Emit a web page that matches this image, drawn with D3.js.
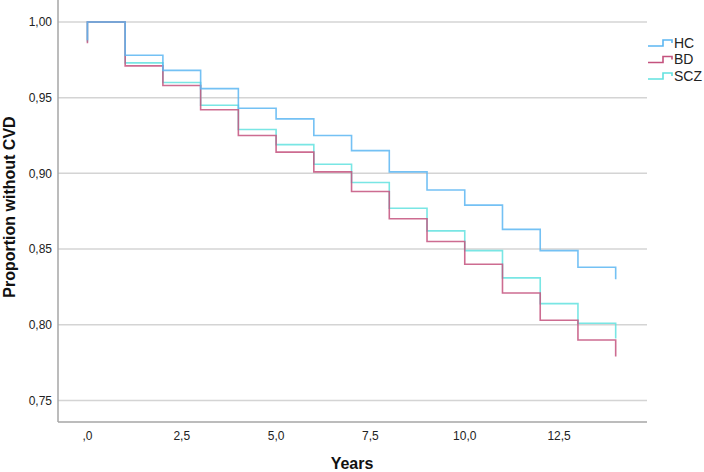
<!DOCTYPE html>
<html>
<head>
<meta charset="utf-8">
<script src="https://cdn.jsdelivr.net/npm/d3@7"></script>
<style>
  body { margin: 0; background: #fff; }
  text { font-family: "Liberation Sans", Arial, sans-serif; }
</style>
</head>
<body>
<div id="chart"></div>
<script>
const years = [0, 0, 1, 2, 3, 4, 5, 6, 7, 8, 9, 10, 11, 12, 13, 14];
const hcValues  = [0.988, 1.000, 0.978, 0.968, 0.956, 0.943, 0.936, 0.925, 0.915, 0.901, 0.889, 0.879, 0.863, 0.849, 0.838, 0.830];
const bdValues  = [0.986, 1.000, 0.971, 0.958, 0.942, 0.925, 0.914, 0.901, 0.888, 0.870, 0.855, 0.840, 0.821, 0.803, 0.790, 0.779];
const sczValues = [0.987, 1.000, 0.973, 0.960, 0.945, 0.929, 0.919, 0.906, 0.894, 0.877, 0.862, 0.849, 0.831, 0.814, 0.801, 0.791];
const groups = ["HC", "BD", "SCZ"];
const colors = ["#5cb6f2", "#c4527e", "#62e2df"];
const xTicks = [0, 2.5, 5, 7.5, 10, 12.5];
const xTickLabels = [",0", "2,5", "5,0", "7,5", "10,0", "12,5"];
const yTicks = [0.75, 0.80, 0.85, 0.90, 0.95, 1.00];
const yTickLabels = ["0,75", "0,80", "0,85", "0,90", "0,95", "1,00"];

const W = 704, H = 472;
const MARGIN = { left: 58, top: 0, right: 57, bottom: 50 };
const width = W - MARGIN.left - MARGIN.right;
const height = H - MARGIN.top - MARGIN.bottom;

const svg = d3.select("#chart").append("svg")
    .attr("width", W)
    .attr("height", H);

const g = svg.append("g")
    .attr("transform", `translate(${MARGIN.left}, ${MARGIN.top})`);

const x = d3.scaleLinear().domain([-0.78, 14.83]).range([0, width]);
const y = d3.scaleLinear().domain([0.7358, 1.0145]).range([height, 0]);

// gridlines
g.selectAll("line.grid")
    .data(yTicks)
    .join("line")
    .attr("class", "grid")
    .attr("x1", 0)
    .attr("x2", width)
    .attr("y1", d => y(d))
    .attr("y2", d => y(d))
    .attr("stroke", "#d4d4d4")
    .attr("stroke-width", 1.5);

// y tick labels
g.selectAll("text.ytick")
    .data(yTicks)
    .join("text")
    .attr("class", "ytick")
    .attr("x", -6)
    .attr("y", d => y(d))
    .attr("dy", "0.35em")
    .attr("text-anchor", "end")
    .attr("font-size", 12)
    .attr("fill", "#222")
    .text((d, i) => yTickLabels[i]);

// x tick labels
g.selectAll("text.xtick")
    .data(xTicks)
    .join("text")
    .attr("class", "xtick")
    .attr("x", d => x(d))
    .attr("y", height + 18)
    .attr("text-anchor", "middle")
    .attr("font-size", 12)
    .attr("fill", "#222")
    .text((d, i) => xTickLabels[i]);

// axes lines
g.append("line")
    .attr("x1", 0).attr("x2", 0)
    .attr("y1", 0).attr("y2", height)
    .attr("stroke", "#a6a6a6")
    .attr("stroke-width", 1.5);
g.append("line")
    .attr("x1", 0).attr("x2", width)
    .attr("y1", height).attr("y2", height)
    .attr("stroke", "#a6a6a6")
    .attr("stroke-width", 1.5);

// survival step curves
const series = [hcValues, bdValues, sczValues];
const line = d3.line()
    .x(d => x(d[0]))
    .y(d => y(d[1]))
    .curve(d3.curveStepAfter);

[2, 1, 0].forEach(i => {
    g.append("path")
        .datum(years.map((t, j) => [t, series[i][j]]))
        .attr("fill", "none")
        .attr("stroke", colors[i])
        .attr("stroke-width", 1.6)
        .attr("stroke-opacity", 0.85)
        .attr("d", line);
});

// axis titles
svg.append("text")
    .attr("transform", `translate(15, ${MARGIN.top + height / 2 - 4}) rotate(-90)`)
    .attr("text-anchor", "middle")
    .attr("font-size", 16)
    .attr("font-weight", "bold")
    .attr("fill", "#111")
    .text("Proportion without CVD");

svg.append("text")
    .attr("x", 352)
    .attr("y", 469)
    .attr("text-anchor", "middle")
    .attr("font-size", 16)
    .attr("font-weight", "bold")
    .attr("fill", "#111")
    .text("Years");

// legend
const legend = svg.append("g").attr("transform", "translate(648, 43)");
groups.forEach((name, i) => {
    const row = legend.append("g").attr("transform", `translate(0, ${i * 16.5})`);
    row.append("path")
        .attr("d", "M0,3 H15 V-3 H24 V0")
        .attr("fill", "none")
        .attr("stroke", colors[i])
        .attr("stroke-width", 1.6);
    row.append("text")
        .attr("x", 26)
        .attr("y", 0)
        .attr("dy", "0.35em")
        .attr("font-size", 14)
        .attr("fill", "#222")
        .text(name);
});
</script>
</body>
</html>
